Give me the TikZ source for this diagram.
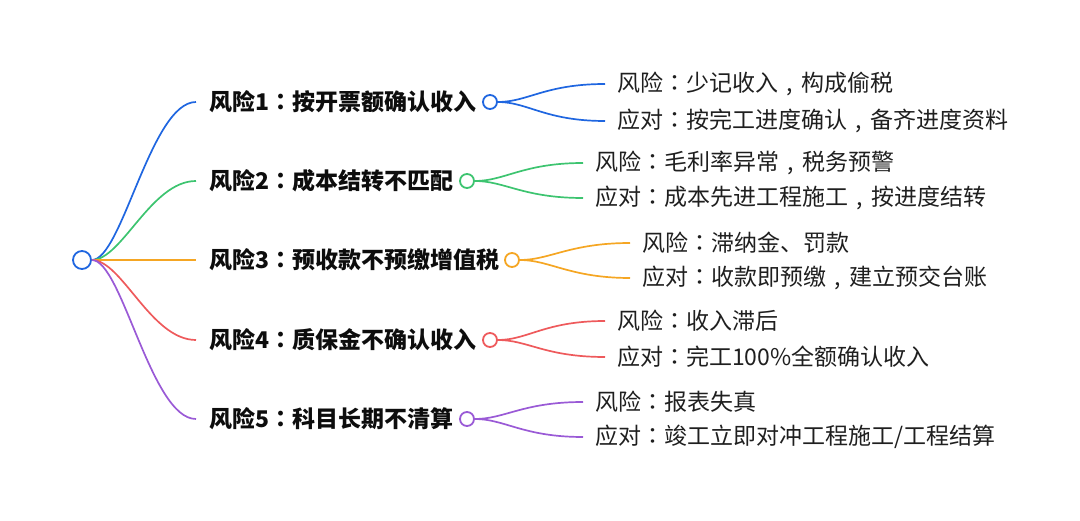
\documentclass[tikz,border=0pt]{standalone}
\usepackage{fontspec}
\setmainfont{Noto Sans CJK SC}
\newfontfamily\krpunct{Noto Sans CJK KR}
\newcommand\kcolon{{\krpunct ：}}
\newcommand\kcomma{\makebox[1em]{,}}
\usetikzlibrary{positioning}
\definecolor{riskblue}{HTML}{1F66E0}
\definecolor{riskgreen}{HTML}{3DC470}
\definecolor{riskorange}{HTML}{F5A623}
\definecolor{riskred}{HTML}{EE5A5C}
\definecolor{riskpurple}{HTML}{9A5AD6}

\begin{document}
\begin{tikzpicture}[x=1pt,y=-1pt,
    hub/.style={circle,draw=#1,line width=1.8pt,fill=white,minimum size=14pt,inner sep=0pt},
    risk/.style={anchor=west,inner sep=0pt,text=black!95,font=\fontsize{23}{23}\selectfont\bfseries},
    leaf/.style={anchor=west,inner sep=0pt,text=black!88,font=\fontsize{23}{23}\selectfont},
    link/.style={draw=#1,line width=1.7pt}]
    \useasboundingbox (0,0) rectangle (1080,521);

    % Root
    \node[hub=riskblue,minimum size=18pt] (root) at (82,260) {};

    % Risk 1
    \node[risk] (r1) at (209,102) {风险1\kcolon 按开票额确认收入};
    \node[hub=riskblue] (h1) at (490,102) {};
    \node[leaf] (l1a) at (617,84) {风险\kcolon 少记收入\kcomma 构成偷税};
    \node[leaf] (l1b) at (617,121) {应对\kcolon 按完工进度确认\kcomma 备齐进度资料};

    % Risk 2
    \node[risk] (r2) at (209,181) {风险2\kcolon 成本结转不匹配};
    \node[hub=riskgreen] (h2) at (467,181) {};
    \node[leaf] (l2a) at (595,163) {风险\kcolon 毛利率异常\kcomma 税务预警};
    \node[leaf] (l2b) at (595,198) {应对\kcolon 成本先进工程施工\kcomma 按进度结转};

    % Risk 3
    \node[risk] (r3) at (209,260) {风险3\kcolon 预收款不预缴增值税};
    \node[hub=riskorange] (h3) at (512,260) {};
    \node[leaf] (l3a) at (642,243) {风险\kcolon 滞纳金、罚款};
    \node[leaf] (l3b) at (642,278) {应对\kcolon 收款即预缴\kcomma 建立预交台账};

    % Risk 4
    \node[risk] (r4) at (209,340) {风险4\kcolon 质保金不确认收入};
    \node[hub=riskred] (h4) at (490,340) {};
    \node[leaf] (l4a) at (617,321) {风险\kcolon 收入滞后};
    \node[leaf] (l4b) at (617,357) {应对\kcolon 完工100\%全额确认收入};

    % Risk 5
    \node[risk] (r5) at (209,419) {风险5\kcolon 科目长期不清算};
    \node[hub=riskpurple] (h5) at (467,419) {};
    \node[leaf] (l5a) at (595,402) {风险\kcolon 报表失真};
    \node[leaf] (l5b) at (595,437) {应对\kcolon 竣工立即对冲工程施工/工程结算};

    % Branches from root
    \begin{scope}[shorten >=13pt]
        \draw[link=riskblue] (root.east) .. controls +(30,0) and +(-58,0) .. (r1.west);
        \draw[link=riskgreen] (root.east) .. controls +(30,0) and +(-58,0) .. (r2.west);
        \draw[link=riskorange] (root.east) -- (r3.west);
        \draw[link=riskred] (root.east) .. controls +(30,0) and +(-58,0) .. (r4.west);
        \draw[link=riskpurple] (root.east) .. controls +(30,0) and +(-58,0) .. (r5.west);
    \end{scope}

    % Leaves
    \begin{scope}[shorten >=12pt]
        \draw[link=riskblue] (h1.east) .. controls +(30,0) and +(-72,0) .. (l1a.west);
        \draw[link=riskblue] (h1.east) .. controls +(30,0) and +(-72,0) .. (l1b.west);
        \draw[link=riskgreen] (h2.east) .. controls +(30,0) and +(-72,0) .. (l2a.west);
        \draw[link=riskgreen] (h2.east) .. controls +(30,0) and +(-72,0) .. (l2b.west);
        \draw[link=riskorange] (h3.east) .. controls +(30,0) and +(-72,0) .. (l3a.west);
        \draw[link=riskorange] (h3.east) .. controls +(30,0) and +(-72,0) .. (l3b.west);
        \draw[link=riskred] (h4.east) .. controls +(30,0) and +(-72,0) .. (l4a.west);
        \draw[link=riskred] (h4.east) .. controls +(30,0) and +(-72,0) .. (l4b.west);
        \draw[link=riskpurple] (h5.east) .. controls +(30,0) and +(-72,0) .. (l5a.west);
        \draw[link=riskpurple] (h5.east) .. controls +(30,0) and +(-72,0) .. (l5b.west);
    \end{scope}
\end{tikzpicture}
\end{document}
